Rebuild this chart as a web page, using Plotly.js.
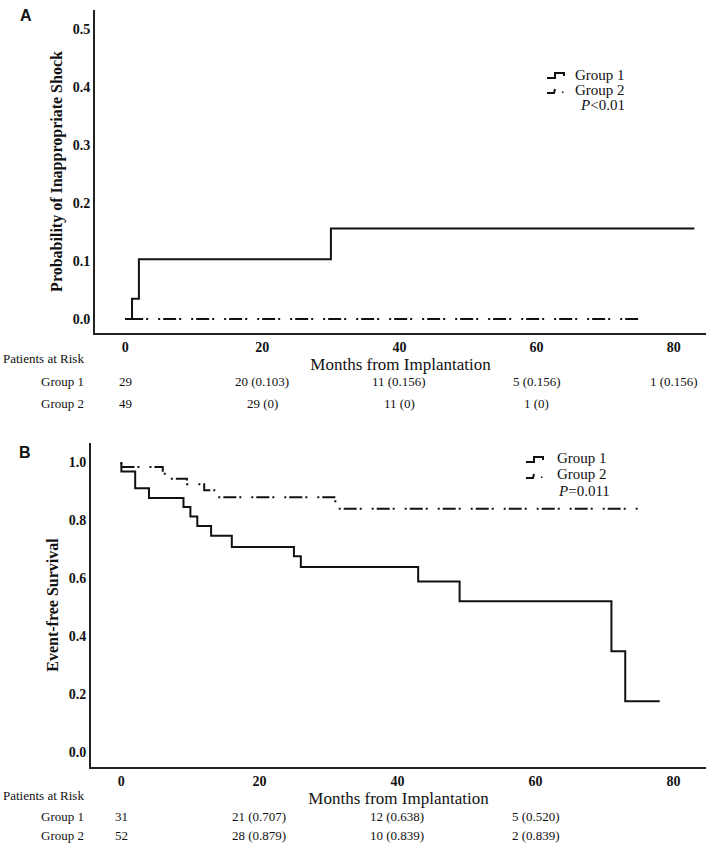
<!DOCTYPE html>
<html>
<head>
<meta charset="utf-8">
<script src="https://cdn.plot.ly/plotly-3.0.1.min.js"></script>
<style>
  body { margin: 0; background: #fff; }
  #plotArea { width: 709px; height: 844px; }
</style>
</head>
<body>
<div id="plotArea"></div>
<script>
// Panel A - cumulative probability of inappropriate shock
var shockMonths1 = [0, 1, 2, 30, 83];
var shockProb1 = [0, 0.035, 0.103, 0.156, 0.156];
var shockMonths2 = [0, 75];
var shockProb2 = [0, 0];

// Panel B - event-free survival
var survMonths1 = [0, 0, 2, 4, 9, 10, 11, 13, 16, 25, 26, 43, 49, 71, 73, 78];
var survProb1 = [1, 0.968, 0.91, 0.876, 0.845, 0.812, 0.78, 0.746, 0.707, 0.675, 0.638, 0.588, 0.52, 0.347, 0.175, 0.175];
var survMonths2 = [0, 0, 6, 7, 9.5, 12, 14, 31, 75];
var survProb2 = [1, 0.983, 0.96, 0.943, 0.924, 0.903, 0.879, 0.839, 0.839];

// patients at risk tables
var riskMonths = [0, 20, 40, 60, 80];
var riskA1 = ["29", "20 (0.103)", "11 (0.156)", "5 (0.156)", "1 (0.156)"];
var riskA2 = ["49", "29 (0)", "11 (0)", "1 (0)"];
var riskB1 = ["31", "21 (0.707)", "12 (0.638)", "5 (0.520)"];
var riskB2 = ["52", "28 (0.879)", "10 (0.839)", "2 (0.839)"];

var groupNames = ["Group 1", "Group 2"];
var pValues = ["<i>P</i>&lt;0.01", "<i>P</i>=0.011"];

var serif = "Liberation Serif, Times New Roman, serif";
var H = 844, W = 709;
function py(px) { return 1 - px / H; }
function px(x) { return x / W; }

var dashDot = "2px,3px,13px,3px,2px,10px";

var data = [
  {x: shockMonths1, y: shockProb1, name: groupNames[0], mode: "lines", line: {shape: "hv", color: "#111", width: 2},
   xaxis: "x", yaxis: "y"},
  {x: shockMonths2, y: shockProb2, name: groupNames[1], mode: "lines", line: {shape: "hv", color: "#111", width: 2, dash: dashDot},
   xaxis: "x", yaxis: "y"},
  {x: survMonths1, y: survProb1, name: groupNames[0], mode: "lines", line: {shape: "hv", color: "#111", width: 2},
   xaxis: "x2", yaxis: "y2"},
  {x: survMonths2, y: survProb2, name: groupNames[1], mode: "lines", line: {shape: "hv", color: "#111", width: 2, dash: dashDot},
   xaxis: "x2", yaxis: "y2"}
];

var tickFont = {family: serif, size: 14, color: "#111", weight: "bold"};

function xAxis(domain, anchor) {
  return {
    domain: domain, anchor: anchor, range: [-4.4, 84.7],
    tickvals: riskMonths, ticks: "", showgrid: false, zeroline: false,
    showline: true, linewidth: 2, linecolor: "#222",
    tickfont: tickFont, fixedrange: true,
    title: {text: "Months from Implantation", font: {family: serif, size: 17, color: "#111"}, standoff: 0}
  };
}

var layout = {
  width: W, height: H,
  margin: {l: 0, r: 0, t: 0, b: 0},
  paper_bgcolor: "#fff", plot_bgcolor: "#fff",
  showlegend: false,
  xaxis: xAxis([px(95), px(706)], "y"),
  yaxis: {
    domain: [py(333), py(10)], anchor: "x", range: [-0.024, 0.533],
    tickvals: [0, 0.1, 0.2, 0.3, 0.4, 0.5], tickformat: ".1f",
    ticks: "", showgrid: false, zeroline: false, showline: true, linewidth: 2, linecolor: "#222",
    tickfont: tickFont,
    title: {text: "Probability of Inappropriate Shock", font: {family: serif, size: 16, color: "#111", weight: "bold"}, standoff: 6}
  },
  xaxis2: xAxis([px(91), px(706)], "y2"),
  yaxis2: {
    domain: [py(767), py(443)], anchor: "x2", range: [-0.052, 1.066],
    tickvals: [0, 0.2, 0.4, 0.6, 0.8, 1.0], tickformat: ".1f",
    ticks: "", showgrid: false, zeroline: false, showline: true, linewidth: 2, linecolor: "#222",
    tickfont: tickFont,
    title: {text: "Event-free Survival", font: {family: serif, size: 16, color: "#111", weight: "bold"}, standoff: 6}
  },
  annotations: [],
  shapes: []
};

var ann = layout.annotations;
var shapes = layout.shapes;
var tableFont = {family: serif, size: 13, color: "#111"};
var legFont = {family: serif, size: 15, color: "#111"};

function note(text, x, y, anchor, font) {
  ann.push({text: text, x: px(x), y: py(y), xref: "paper", yref: "paper", xanchor: anchor, yanchor: "middle",
            showarrow: false, font: font});
}

// panel letters
note("<b>A</b>", 18, 15, "left", {family: "Liberation Sans, Arial, sans-serif", size: 16, color: "#111"});
note("<b>B</b>", 17, 452, "left", {family: "Liberation Sans, Arial, sans-serif", size: 16, color: "#111"});

// small step-shaped legend keys, like the original figure
function legendKeys(x0, yA, yB) {
  var p1 = "M" + px(x0) + "," + py(yA + 3) + " L" + px(x0 + 8) + "," + py(yA + 3) + " L" + px(x0 + 8) + "," + py(yA - 2) +
           " L" + px(x0 + 17) + "," + py(yA - 2) + " L" + px(x0 + 17) + "," + py(yA + 1);
  shapes.push({type: "path", xref: "paper", yref: "paper", path: p1, line: {color: "#111", width: 2}});
  var p2 = "M" + px(x0) + "," + py(yB + 3) + " L" + px(x0 + 7) + "," + py(yB + 3) + " L" + px(x0 + 8) + "," + py(yB - 1);
  shapes.push({type: "path", xref: "paper", yref: "paper", path: p2, line: {color: "#111", width: 2}});
  shapes.push({type: "rect", xref: "paper", yref: "paper", x0: px(x0 + 15), x1: px(x0 + 16.5), y0: py(yB + 3), y1: py(yB + 1.5),
               fillcolor: "#111", line: {width: 0}});
}

// legend A
legendKeys(547, 75, 90);
note(groupNames[0], 573, 75, "left", legFont);
note(groupNames[1], 573, 90, "left", legFont);
note(pValues[0], 578, 105, "left", legFont);

// legend B
legendKeys(526, 459, 475);
note(groupNames[0], 555, 458, "left", legFont);
note(groupNames[1], 555, 474, "left", legFont);
note(pValues[1], 556, 491, "left", legFont);

function riskTable(xref, rows, yHead, y1, y2) {
  note("Patients at Risk", 86, yHead, "right", tableFont);
  note(groupNames[0], 86, y1, "right", tableFont);
  note(groupNames[1], 86, y2, "right", tableFont);
  rows.forEach(function(row, r) {
    row.forEach(function(txt, i) {
      ann.push({text: txt, x: riskMonths[i], y: py(r == 0 ? y1 : y2), xref: xref, yref: "paper",
                xanchor: "center", yanchor: "middle", showarrow: false, font: tableFont});
    });
  });
}
riskTable("x", [riskA1, riskA2], 359, 381, 403);
riskTable("x2", [riskB1, riskB2], 795, 816, 835);

Plotly.newPlot("plotArea", data, layout, {displayModeBar: false, staticPlot: true});
</script>
</body>
</html>
